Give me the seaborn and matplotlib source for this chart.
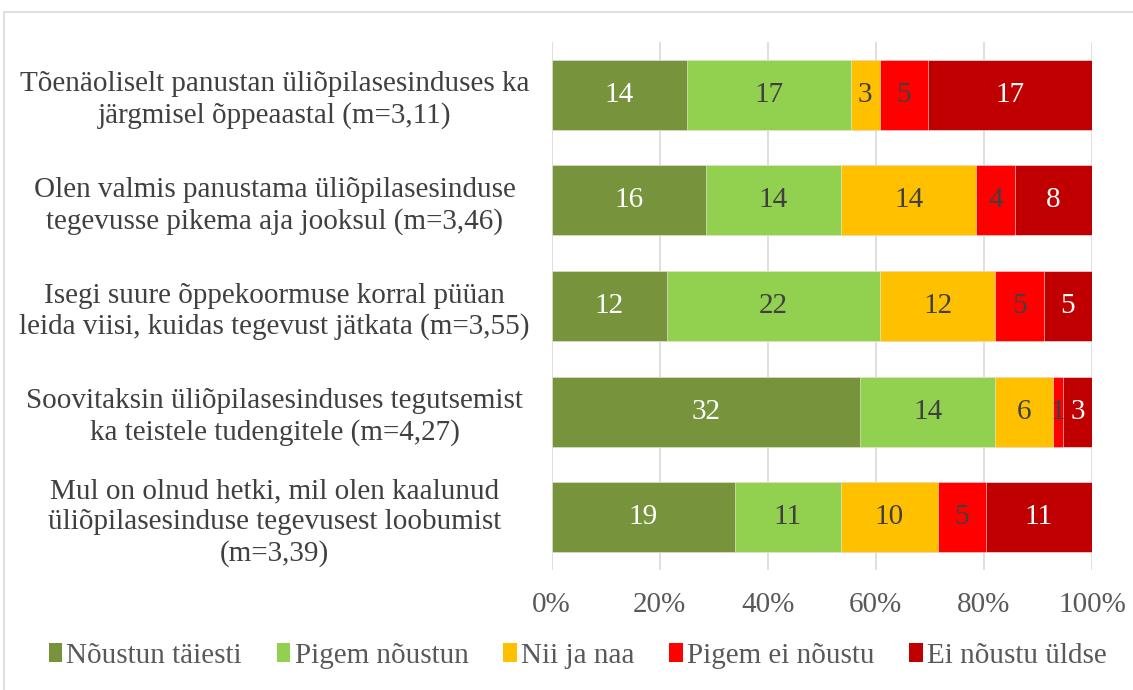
import matplotlib
matplotlib.use("Agg")
import matplotlib.pyplot as plt
import seaborn as sns
import pandas as pd
import numpy as np
from matplotlib.patches import Patch, Rectangle

categories = [
    "Tõenäoliselt panustan üliõpilasesinduses ka\njärgmisel õppeaastal (m=3,11)",
    "Olen valmis panustama üliõpilasesinduse\ntegevusse pikema aja jooksul (m=3,46)",
    "Isegi suure õppekoormuse korral püüan\nleida viisi, kuidas tegevust jätkata (m=3,55)",
    "Soovitaksin üliõpilasesinduses tegutsemist\nka teistele tudengitele (m=4,27)",
    "Mul on olnud hetki, mil olen kaalunud\nüliõpilasesinduse tegevusest loobumist\n(m=3,39)",
]
series_names = ["Nõustun täiesti", "Pigem nõustun", "Nii ja naa", "Pigem ei nõustu", "Ei nõustu üldse"]
noustun_taiesti = [14, 16, 12, 32, 19]
pigem_noustun = [17, 14, 22, 14, 11]
nii_ja_naa = [3, 14, 12, 6, 10]
pigem_ei_noustu = [5, 4, 5, 1, 5]
ei_noustu_uldse = [17, 8, 5, 3, 11]
tick_labels = ["0%", "20%", "40%", "60%", "80%", "100%"]

colors = ["#77933C", "#92D050", "#FFC000", "#FF0000", "#C00000"]
label_colors = ["white", "#404040", "#404040", "#404040", "white"]

sns.set_theme(style="white")
plt.rcParams["font.family"] = ["Liberation Serif", "DejaVu Serif"]

FS = 21

counts = np.array([noustun_taiesti, pigem_noustun, nii_ja_naa, pigem_ei_noustu, ei_noustu_uldse], dtype=float)
totals = counts.sum(axis=0)
pct = counts / totals * 100
cum = np.cumsum(pct, axis=0)

fig = plt.figure(figsize=(11.33, 6.90), dpi=100)
ax = fig.add_axes([551.5 / 1133, 1 - 570 / 690, (1092 - 551.5) / 1133, (570 - 42) / 690])

for k in range(4, -1, -1):
    df = pd.DataFrame({"cat": categories, "val": cum[k]})
    sns.barplot(data=df, x="val", y="cat", orient="h", color=colors[k], ax=ax,
                width=0.663, edgecolor="#f0f0f0", linewidth=0.4, saturation=1, zorder=3)

for k in range(5):
    for i in range(len(categories)):
        left = cum[k][i] - pct[k][i]
        xc = left + pct[k][i] / 2
        ax.text(xc, i, f"{int(counts[k][i])}", ha="center", va="center",
                fontsize=FS, color=label_colors[k], zorder=5)

ax.set_xlim(0, 100)
ax.set_xticks([0, 20, 40, 60, 80, 100])
ax.set_xticklabels(tick_labels, fontsize=FS, color="#595959")
ax.set_ylabel("")
ax.set_xlabel("")
# center of label block at ~274.5 px -> pad = 277 px = 199.4 pt
ax.tick_params(axis="y", labelsize=FS, labelcolor="#404040", length=0, pad=199.4)
ax.tick_params(axis="x", length=0, pad=16)
for lbl in ax.get_yticklabels():
    lbl.set_horizontalalignment("center")
    lbl.set_multialignment("center")
    lbl.set_linespacing(1.22)
ax.grid(axis="x", color="#D9D9D9", linewidth=1.2, zorder=0)
ax.grid(axis="y", visible=False)
for s in ax.spines.values():
    s.set_visible(False)
ax.set_ylim(4.5, -0.5)

handles = [Patch(facecolor=c, edgecolor="none") for c in colors]
fig.legend(handles, series_names, loc="center", bbox_to_anchor=(0.51, 1 - 656 / 690), ncol=5,
           frameon=False, fontsize=FS, handlelength=0.45, handleheight=0.6, handletextpad=0.15,
           columnspacing=1.2, labelcolor="#595959")

fig.patches.append(Rectangle((4 / 1133, -0.1), 1.2, 1 - 12 / 690 + 0.1, transform=fig.transFigure,
                             fill=False, edgecolor="#D9D9D9", linewidth=1.2))

fig.savefig("out.png", dpi=100)
